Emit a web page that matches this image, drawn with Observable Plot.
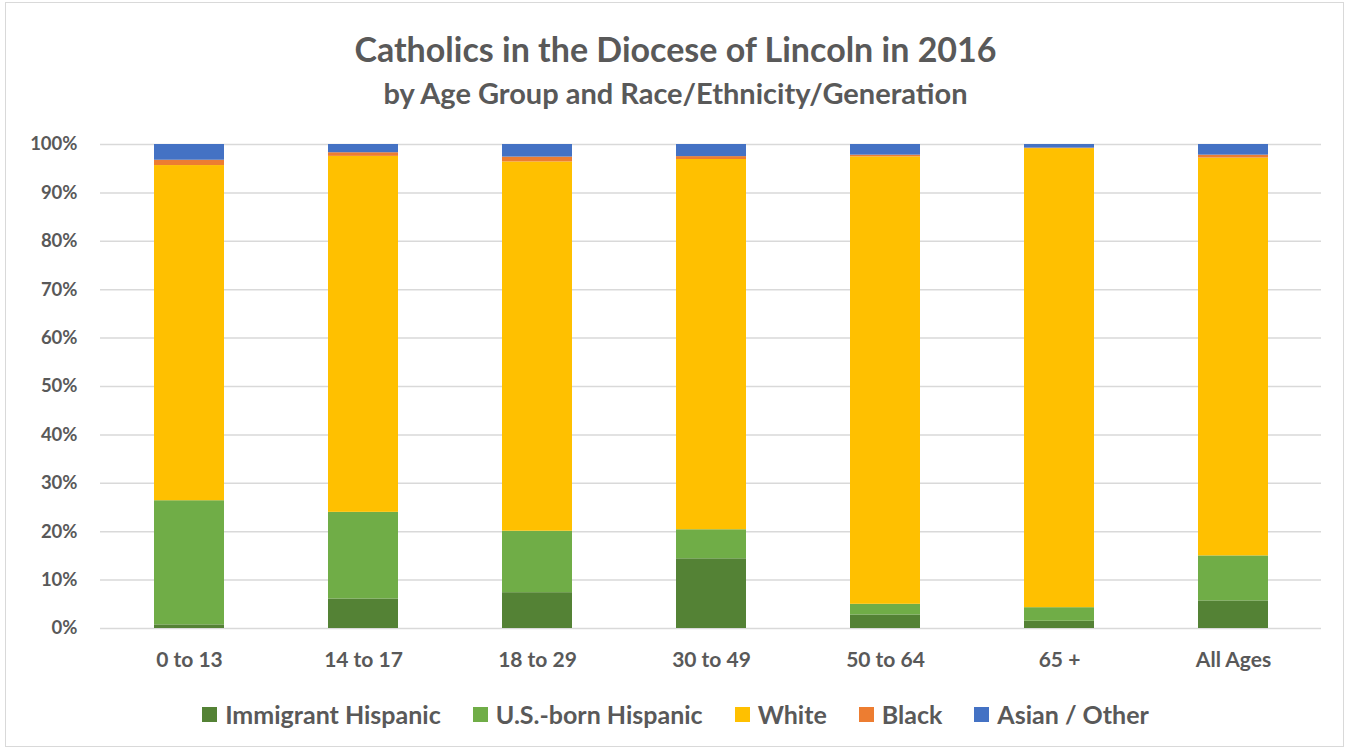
<!DOCTYPE html>
<html>
<head>
<meta charset="utf-8">
<script src="https://cdn.jsdelivr.net/npm/d3@7"></script>
<script src="https://cdn.jsdelivr.net/npm/@observablehq/plot@0.6"></script>
<style>
  body { margin: 0; background: #fff; font-family: Lato, "Open Sans", sans-serif; }
  #frame { position: absolute; left: 5px; top: 2px; width: 1339px; height: 745px; border: 1px solid #d9d9d9; box-sizing: border-box; }
  #title { position: absolute; left: 0; width: 1351px; top: 29px; line-height: 40px; text-align: center; font-size: 34px; font-weight: bold; color: #595959; }
  #subtitle { position: absolute; left: 0; width: 1351px; top: 76px; line-height: 34px; text-align: center; font-size: 29px; font-weight: bold; color: #595959; }
  #chart { position: absolute; left: 0; top: 120px; }
  #legend { position: absolute; left: 0; width: 1351px; top: 699px; line-height: 30px; display: flex; justify-content: center; gap: 32px; font-size: 25px; font-weight: bold; color: #595959; }
  .item { display: flex; align-items: center; gap: 8px; }
  .sw { width: 15px; height: 15px; display: inline-block; }
</style>
</head>
<body>
<div id="frame"></div>
<div id="title">Catholics in the Diocese of Lincoln in 2016</div>
<div id="subtitle">by Age Group and Race/Ethnicity/Generation</div>
<div id="chart"></div>
<div id="legend"></div>
<script>
const ageGroups = ["0 to 13", "14 to 17", "18 to 29", "30 to 49", "50 to 64", "65 +", "All Ages"];
const seriesNames = ["Immigrant Hispanic", "U.S.-born Hispanic", "White", "Black", "Asian / Other"];
const seriesColors = ["#548235", "#70AD47", "#FFC000", "#ED7D31", "#4472C4"];
const immigrantHispanic = [0.75, 6.1, 7.4, 14.4, 2.8, 1.5, 5.7];
const usBornHispanic    = [25.65, 17.9, 12.7, 6.0, 2.2, 2.8, 9.3];
const white             = [69.25, 73.55, 76.3, 76.5, 92.45, 94.85, 82.2];
const black             = [1.1, 0.75, 1.0, 0.6, 0.35, 0.1, 0.6];
const asianOther        = [3.25, 1.7, 2.6, 2.5, 2.2, 0.75, 2.2];
const yTicks = [0, 0.1, 0.2, 0.3, 0.4, 0.5, 0.6, 0.7, 0.8, 0.9, 1.0];

const seriesValues = [immigrantHispanic, usBornHispanic, white, black, asianOther];
const data = [];
seriesNames.forEach((s, si) => {
  ageGroups.forEach((g, gi) => data.push({group: g, series: s, value: seriesValues[si][gi] / 100}));
});

const chart = Plot.plot({
  width: 1351,
  height: 560,
  marginLeft: 100,
  marginRight: 30,
  marginTop: 24,
  marginBottom: 52,
  style: { fontFamily: "Lato, 'Open Sans', sans-serif", fontWeight: "bold", color: "#595959" },
  x: { domain: ageGroups, paddingInner: 0.6, paddingOuter: 0.3, label: null },
  y: { domain: [0, 1], label: null },
  color: { domain: seriesNames, range: seriesColors },
  marks: [
    Plot.ruleY(yTicks, { stroke: "#d9d9d9", strokeWidth: 1.5 }),
    Plot.barY(data, Plot.stackY({ order: seriesNames }, { x: "group", y: "value", fill: "series" })),
    Plot.axisX({ tickSize: 0, tickPadding: 24, fontSize: 21, fontWeight: "bold", fill: "#595959", label: null }),
    Plot.axisY({ ticks: yTicks, tickFormat: d3.format(".0%"), tickSize: 0, tickPadding: 23, fontSize: 18.5, fontWeight: "bold", fill: "#595959", label: null })
  ]
});
document.getElementById("chart").appendChild(chart);

const legend = document.getElementById("legend");
seriesNames.forEach((s, i) => {
  const it = document.createElement("div");
  it.className = "item";
  it.innerHTML = `<span class="sw" style="background:${seriesColors[i]}"></span><span>${s}</span>`;
  legend.appendChild(it);
});
</script>
</body>
</html>
